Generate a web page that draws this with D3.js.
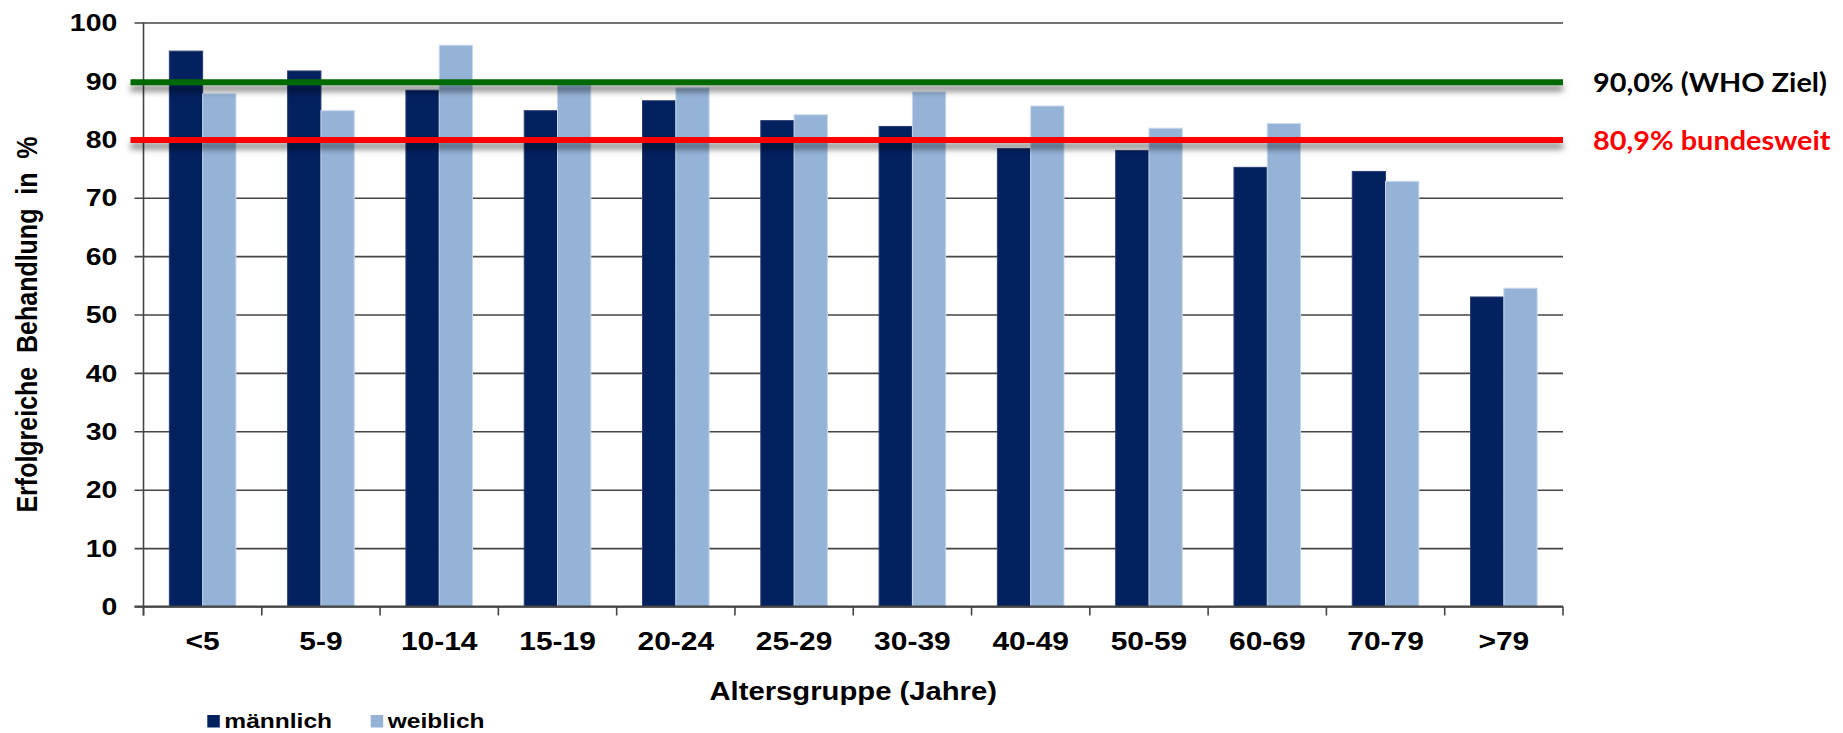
<!DOCTYPE html>
<html>
<head>
<meta charset="utf-8">
<script src="https://cdn.jsdelivr.net/npm/d3@7"></script>
<style>
  html, body { margin: 0; padding: 0; background: #fff; }
  svg { display: block; }
</style>
</head>
<body>
<svg id="chart" width="1843" height="733"></svg>
<script>
// ---------- data ----------
const categories = ["<5", "5-9", "10-14", "15-19", "20-24", "25-29", "30-39", "40-49", "50-59", "60-69", "70-79", ">79"];
const seriesNames = ["männlich", "weiblich"];
const maleValues = [95.1, 91.7, 88.4, 84.9, 86.6, 83.2, 82.2, 78.4, 78.1, 75.2, 74.5, 53.0];
const femaleValues = [87.8, 84.9, 96.1, 89.9, 88.8, 84.2, 88.1, 85.7, 81.9, 82.7, 72.8, 54.5];
const yTicks = [0, 10, 20, 30, 40, 50, 60, 70, 80, 90, 100];
const refValues = [89.75, 79.9];
const refLabels = ["90,0% (WHO Ziel)", "80,9% bundesweit"];
const yTitle = "Erfolgreiche  Behandlung  in  %";
const xTitle = "Altersgruppe (Jahre)";

// ---------- styles ----------
const colors = ["#03205F", "#95B3D7"];
const strokes = ["#2a3f72", "#c7d7ec"];
const refColors = ["#006A00", "#FF0000"];
const refTextColors = ["#000000", "#FF0000"];
const SX = 1.17; // horizontal stretch of the original rendering
const gridColor = "#454545";
const font = "'Liberation Sans', Arial, sans-serif";

const svg = d3.select("#chart");
const pLeft = 143.5, pRight = 1563, pTop = 22.5, pBottom = 606.5;

const x = d3.scaleBand().domain(categories).range([pLeft, pRight]).padding(0);
const x1 = d3.scaleBand().domain(seriesNames)
  .range([x.bandwidth() * 0.2185, x.bandwidth() * 0.7815]).padding(0);
const y = d3.scaleLinear().domain([0, 100]).range([pBottom, pTop]);

const defs = svg.append("defs");
const f = defs.append("filter").attr("id", "shadow")
  .attr("filterUnits", "userSpaceOnUse")
  .attr("x", 0).attr("y", 0).attr("width", 1843).attr("height", 733);
f.append("feDropShadow").attr("dx", 0).attr("dy", 6).attr("stdDeviation", 3.2)
  .attr("flood-color", "#000").attr("flood-opacity", 0.5);

function stretchedText(g, px, py, txt) {
  return g.append("text")
    .attr("transform", `translate(${px},${py}) scale(${SX},1)`)
    .text(txt);
}

// gridlines
const yAxis = d3.axisLeft(y).tickValues(yTicks).tickSize(-(pRight - pLeft)).tickFormat("");
const gy = svg.append("g").attr("transform", `translate(${pLeft},0)`).call(yAxis);
gy.select(".domain").remove();
gy.selectAll(".tick line").attr("stroke", gridColor).attr("stroke-width", 1.6)
  .attr("x1", -9);

// bars
const data = categories.map((c, i) => ({ cat: c, vals: [maleValues[i], femaleValues[i]] }));
const groups = svg.append("g").selectAll("g").data(data).join("g")
  .attr("transform", d => `translate(${x(d.cat)},0)`);
groups.selectAll("rect")
  .data(d => d.vals.map((v, k) => ({ s: seriesNames[k], v, k })))
  .join("rect")
  .attr("x", d => x1(d.s))
  .attr("width", x1.bandwidth())
  .attr("y", d => y(d.v))
  .attr("height", d => y(0) - y(d.v))
  .attr("fill", d => colors[d.k])
  .attr("stroke", d => strokes[d.k])
  .attr("stroke-width", 1);

// y axis line
svg.append("line").attr("x1", pLeft).attr("x2", pLeft).attr("y1", y(100)).attr("y2", y(0) + 9)
  .attr("stroke", gridColor).attr("stroke-width", 1.6);
// x axis line
svg.append("line").attr("x1", pLeft - 9).attr("x2", pRight).attr("y1", y(0)).attr("y2", y(0))
  .attr("stroke", gridColor).attr("stroke-width", 1.8);

// x ticks at band boundaries
const bounds = categories.map(c => x(c)).concat([pRight]);
svg.append("g").selectAll("line").data(bounds).join("line")
  .attr("x1", d => d).attr("x2", d => d)
  .attr("y1", y(0)).attr("y2", y(0) + 9)
  .attr("stroke", gridColor).attr("stroke-width", 1.6);

// y tick labels
const ylab = svg.append("g").attr("font-family", font).attr("font-weight", "bold")
  .attr("font-size", 24.3).attr("fill", "#000").attr("text-anchor", "end");
yTicks.forEach(t => stretchedText(ylab, 117.3, y(t) + 8.6, t));

// x tick labels
const xlab = svg.append("g").attr("font-family", font).attr("font-weight", "bold")
  .attr("font-size", 25.6).attr("fill", "#000").attr("text-anchor", "middle");
categories.forEach(c => stretchedText(xlab, x(c) + x.bandwidth() / 2, 650, c));

// axis titles
svg.append("text").attr("font-family", font).attr("font-weight", "bold")
  .attr("font-size", 25).attr("fill", "#000").attr("text-anchor", "middle")
  .style("white-space", "pre")
  .attr("transform", `translate(37,324.5) scale(${SX},1) rotate(-90)`)
  .text(yTitle);
svg.append("text").attr("font-family", font).attr("font-weight", "bold")
  .attr("font-size", 25).attr("fill", "#000").attr("text-anchor", "middle")
  .attr("transform", `translate(${(pLeft + pRight) / 2},700) scale(${SX},1)`)
  .text(xTitle);

// reference lines
const refG = svg.append("g");
refValues.forEach((v, i) => {
  refG.append("line").attr("x1", 130.5).attr("x2", pRight)
    .attr("y1", y(v)).attr("y2", y(v))
    .attr("stroke", refColors[i]).attr("stroke-width", 6)
    .attr("filter", "url(#shadow)");
  refG.append("text").attr("font-family", "Lato, 'Open Sans', sans-serif").attr("font-weight", "bold")
    .attr("font-size", 27).attr("fill", refTextColors[i])
    .attr("transform", `translate(1593,${y(v) + 9.8}) scale(1.07,1)`)
    .text(refLabels[i]);
});

// legend
const leg = svg.append("g").attr("font-family", font).attr("font-weight", "bold")
  .attr("font-size", 21).attr("fill", "#000");
const legX = [207.3, 370.7];
seriesNames.forEach((s, i) => {
  leg.append("rect").attr("x", legX[i]).attr("y", 715).attr("width", 12.5).attr("height", 12.5)
    .attr("fill", colors[i]);
  stretchedText(leg, legX[i] + 17, 728.3, s);
});
</script>
</body>
</html>
